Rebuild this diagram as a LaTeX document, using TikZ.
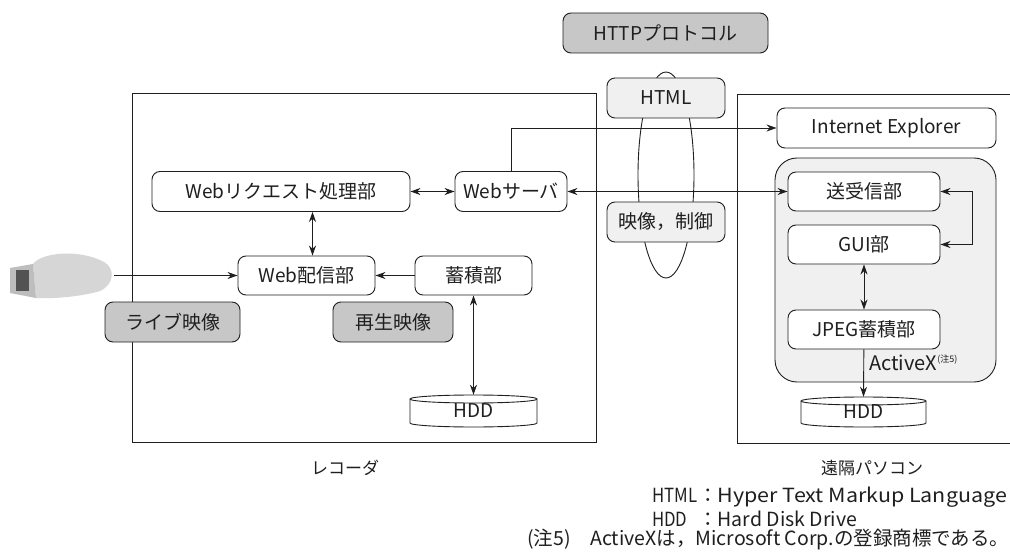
\documentclass[tikz,border=0pt]{standalone}
\usepackage{fontspec}
\setmainfont{Noto Sans CJK JP}
\usetikzlibrary{arrows.meta,calc,shapes.geometric}
\definecolor{ink}{gray}{0.12}
\definecolor{tone}{gray}{0.78}
\definecolor{haze}{gray}{0.94}
\definecolor{body}{gray}{0.84}
\definecolor{side}{gray}{0.74}
\definecolor{lens}{gray}{0.32}

\begin{document}
\begin{tikzpicture}[x=1pt,y=-1pt,
  every node/.style={font=\fontsize{19}{22}\selectfont, text=ink},
  blk/.style={draw=ink, line width=0.9pt, rounded corners=8pt, fill=white,
    inner sep=0pt, minimum height=40pt},
  graybox/.style={blk, fill=tone},
  hazebox/.style={blk, fill=haze},
  frame/.style={draw=ink, line width=0.9pt, inner sep=0pt},
  note/.style={font=\fontsize{19.5}{22}\selectfont, anchor=west, inner sep=0pt},
  arr/.style={line width=0.9pt, draw=ink, -{Stealth[length=10pt,width=7pt]}},
  dbl/.style={line width=0.9pt, draw=ink,
    {Stealth[length=10pt,width=7pt]}-{Stealth[length=10pt,width=7pt]}},
  disk/.style={line width=0.9pt, draw=ink, fill=white}
]
\useasboundingbox (0,0) rectangle (1010,559);
\clip (0,0) rectangle (1010,559);
\fill[white] (0,0) rectangle (1010,559);

% outer frames: recorder and remote PC
\node[frame, minimum width=464pt, minimum height=349pt] (rec) at (364,267.5) {};
\node[frame, minimum width=303pt, minimum height=349pt] (pc) at (888.5,268.5) {};
\node (reclabel) at (345,468) [font=\fontsize{17}{20}\selectfont] {レコーダ};
\node (pclabel) at (872,468) [font=\fontsize{17}{20}\selectfont] {遠隔パソコン};

% ActiveX container
\node[hazebox, rounded corners=22pt, minimum width=221pt, minimum height=224pt] (ax) at (885.5,270) {};

% protocol loop
\node[draw=ink, line width=0.9pt, ellipse, inner sep=0pt,
  minimum width=56pt, minimum height=206pt] (loop) at (666,175) {};

% camera
\fill[body] (33,264) .. controls (42,252) and (80,249) .. (104,262)
  .. controls (115,268) and (115,284) .. (100,291)
  .. controls (80,297) and (50,299) .. (36,298) -- cycle;
\fill[side] (10,268) -- (33,264) -- (36,298) -- (10,293) -- cycle;
\fill[lens] (16,270) rectangle (29,291);
\coordinate (cam) at (114,275.5);

% recorder blocks
\node[blk, minimum width=258pt] (wreq) at (281,191.5) {Webリクエスト処理部};
\node[blk, minimum width=112pt] (wsrv) at (511,191.5) {Webサーバ};
\node[blk, minimum width=137pt, minimum height=39pt] (wdist) at (306.5,275.5) {Web配信部};
\node[blk, minimum width=117pt, minimum height=39pt] (store) at (473.5,275.5) {蓄積部};
\node[graybox, minimum width=135pt] (live) at (172.5,322) {ライブ映像};
\node[graybox, minimum width=120pt] (play) at (393,322) {再生映像};

% recorder disk
\draw[disk] (410,399) -- (410,423) arc[start angle=180,end angle=360,x radius=63.5pt,y radius=4pt]
  -- (537,399) arc[start angle=0,end angle=180,x radius=63.5pt,y radius=4pt] -- cycle;
\draw[line width=0.9pt, draw=ink] (410,399) arc[start angle=180,end angle=360,x radius=63.5pt,y radius=4pt];
\node[inner sep=0pt, minimum width=127pt, minimum height=32pt] (hdd1) at (473.5,411) {\raisebox{-3pt}{HDD}};

% protocol labels
\node[graybox, minimum width=205pt] (http) at (665.5,33) {HTTPプロトコル};
\node[hazebox, minimum width=118pt] (html) at (666,98) {HTML};
\node[hazebox, minimum width=118pt] (ctrl) at (666,222) {映像，制御};

% remote PC blocks
\node[blk, minimum width=219pt] (ie) at (886.5,128) {Internet Explorer};
\node[blk, minimum width=152pt, minimum height=39pt] (txrx) at (864,191.5) {送受信部};
\node[blk, minimum width=152pt, minimum height=39pt] (gui) at (864,244.5) {GUI部};
\node[blk, minimum width=152pt, minimum height=39pt] (jpeg) at (864,329.5) {JPEG蓄積部};
\node[anchor=west, inner sep=0pt, font=\fontsize{20}{22}\selectfont] (axlabel) at (869,363)
  {ActiveX\raisebox{8pt}{\fontsize{9}{9}\selectfont (注5)}};

% remote PC disk
\draw[disk] (801,401) -- (801,423) arc[start angle=180,end angle=360,x radius=62.5pt,y radius=4pt]
  -- (926,401) arc[start angle=0,end angle=180,x radius=62.5pt,y radius=4pt] -- cycle;
\draw[line width=0.9pt, draw=ink] (801,401) arc[start angle=180,end angle=360,x radius=62.5pt,y radius=4pt];
\node[inner sep=0pt, minimum width=125pt, minimum height=30pt] (hdd2) at (863.5,412) {\raisebox{-3pt}{HDD}};

% connectors
\draw[arr] (cam) -- (wdist.west);
\draw[arr] (store) -- (wdist);
\draw[dbl] (wreq) -- (wsrv);
\draw[dbl] ([xshift=6pt]wdist.north) -- ([xshift=6pt]wdist.north |- wreq.south);
\draw[dbl] (store.south) -- (hdd1.north);
\draw[arr] (wsrv.north) |- (ie.west);
\draw[dbl] (wsrv) -- (txrx);
\draw[dbl] (txrx.east) -- ++(32,0) |- (gui.east);
\draw[dbl] (gui) -- (jpeg);
\draw[arr] (jpeg) -- (hdd2.north);

% notes
\node[note] (n1) at (652,497) {\makebox[46pt][l]{\scalebox{0.86}[1]{HTML}}：\scalebox{1.1}[1]{Hyper Text Markup Language}};
\node[note] (n2) at (652,519) {\makebox[46pt][l]{\scalebox{0.86}[1]{HDD}}：Hard Disk Drive};
\node[note] (n3) at (527,540) {(注5)　ActiveXは，Microsoft Corp.の登録商標である。};
\end{tikzpicture}
\end{document}
